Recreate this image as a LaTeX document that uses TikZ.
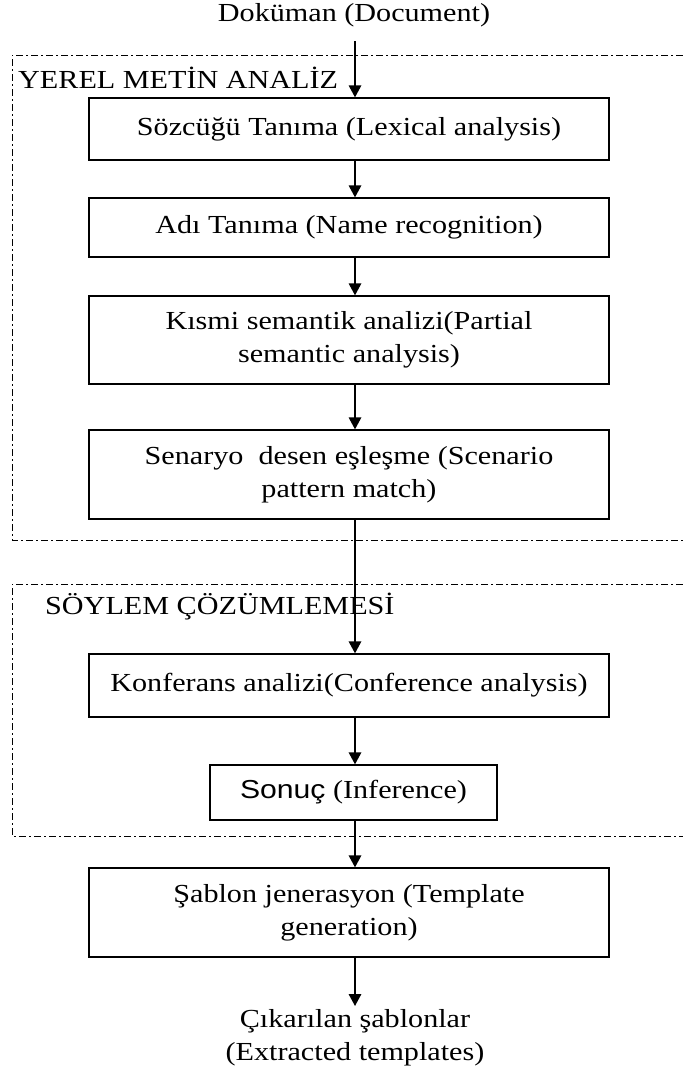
\documentclass[tikz,border=0pt]{standalone}
\usepackage{fontspec}
\setmainfont{Liberation Serif}[FakeStretch=1.16]
\newfontfamily\arialfont{Liberation Sans}[FakeStretch=1.16]
\usetikzlibrary{arrows.meta}
\begin{document}
\begin{tikzpicture}[x=1pt,y=-1pt,
  every node/.style={font=\fontsize{26}{33}\selectfont},
  stepbox/.style={draw,line width=1.3pt,minimum width=520pt,align=center,inner sep=0pt},
  flow/.style={-{Triangle[length=12pt,width=12.5pt]},line width=1.6pt},
  region/.style={line width=0.9pt,dash pattern=on 7pt off 3pt on 2pt off 3pt}]
\useasboundingbox (0,0) rectangle (683,1069);

% dash-dot region frames, open to the right
\draw[region] (683,55) -- (12,55) -- (12,540) -- (683,540);
\draw[region] (683,584) -- (12,584) -- (12,836) -- (683,836);
\node[anchor=west,inner sep=0pt] (lbl1) at (18,78) {YEREL METİN ANALİZ};
\node[anchor=west,inner sep=0pt] (lbl2) at (45,607) {SÖYLEM ÇÖZÜMLEMESİ};

% start and end texts
\node[inner sep=0pt] (doc) at (354,15) {Doküman (Document)};
\coordinate (docend) at (355,41);
\node[align=center,inner sep=0pt] (out) at (355,1038) {Çıkarılan şablonlar\\(Extracted templates)};
\coordinate (outtop) at (355,1006);

% processing steps
\node[stepbox,minimum height=62pt] (lex) at (349,129) {Sözcüğü Tanıma (Lexical analysis)};
\node[stepbox,minimum height=59pt] (name) at (349,227.5) {Adı Tanıma (Name recognition)};
\node[stepbox,minimum height=88pt] (sem) at (349,340) {Kısmi semantik analizi(Partial\\semantic analysis)};
\node[stepbox,minimum height=89pt] (scen) at (349,474.5) {Senaryo\ \ desen eşleşme (Scenario\\pattern match)};
\node[stepbox,minimum height=63pt] (conf) at (349,685.5) {Konferans analizi(Conference analysis)};
\node[stepbox,minimum width=287pt,minimum height=55pt] (inf) at (353.5,792.5) {{\arialfont Sonuç} (Inference)};
\node[stepbox,minimum height=89pt] (tmpl) at (349,912.5) {Şablon jenerasyon (Template\\generation)};

% connectors
\draw[flow] (docend) -- (lex.north -| docend);
\draw[flow] (lex.south -| docend) -- (name.north -| docend);
\draw[flow] (name.south -| docend) -- (sem.north -| docend);
\draw[flow] (sem.south -| docend) -- (scen.north -| docend);
\draw[flow] (scen.south -| docend) -- (conf.north -| docend);
\draw[flow] (conf.south -| docend) -- (inf.north -| docend);
\draw[flow] (inf.south -| docend) -- (tmpl.north -| docend);
\draw[flow] (tmpl.south -| docend) -- (outtop);
\end{tikzpicture}
\end{document}
